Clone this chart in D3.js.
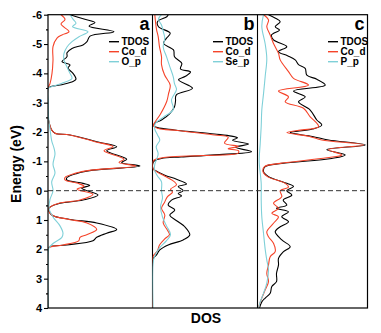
<!DOCTYPE html>
<html>
<head>
<meta charset="utf-8">
<script src="https://cdn.jsdelivr.net/npm/d3@7"></script>
<style>
  html, body { margin: 0; padding: 0; background: #fff; }
  svg { display: block; font-family: Arial, "Liberation Sans", sans-serif; }
</style>
</head>
<body>
<svg id="chart" width="381" height="333"></svg>
<script>
// Projected density of states, [energy (eV), DOS (states/eV)]
const aTDOS = [[-6.00,2.2],[-5.85,3.6],[-5.73,4.7],[-5.61,4.1],[-5.42,6.6],[-5.27,4.2],[-5.08,3.9],[-4.97,3.5],[-4.85,2.4],[-4.70,1.9],[-4.57,1.9],[-4.40,1.4],[-4.29,2.2],[-4.18,2.0],[-4.00,2.5],[-3.80,2.8],[-3.72,2.5],[-3.60,1.2],[-3.49,0.0],[-2.55,0.0],[-2.41,0.05],[-2.07,0.37],[-1.96,0.7],[-1.90,2.2],[-1.67,4.87],[-1.50,6.87],[-1.36,5.87],[-1.07,7.87],[-0.96,7.37],[-0.84,9.2],[-0.70,4.5],[-0.59,2.9],[-0.45,1.9],[-0.37,1.87],[-0.25,3.5],[-0.18,4.17],[-0.08,3.37],[0.15,5.0],[0.32,3.5],[0.43,1.2],[0.56,0.2],[0.62,0.05],[0.83,0.37],[0.98,2.2],[1.10,4.87],[1.32,6.87],[1.45,5.87],[1.59,4.87],[1.71,4.5],[1.85,1.87],[1.91,0.2],[1.99,0.0],[4.00,0.0]];
const aCo_d = [[-6.00,1.3],[-5.84,1.7],[-5.68,1.3],[-5.42,2.1],[-5.31,1.4],[-5.20,0.9],[-4.91,0.5],[-4.45,0.5],[-4.00,0.4],[-3.65,0.2],[-3.49,0.0],[-2.55,0.0],[-2.41,0.05],[-2.07,0.37],[-1.96,0.7],[-1.90,2.2],[-1.67,4.7],[-1.50,6.5],[-1.36,5.6],[-1.07,7.6],[-0.96,7.1],[-0.84,8.8],[-0.70,4.3],[-0.59,2.7],[-0.45,1.7],[-0.37,1.7],[-0.25,3.0],[-0.15,3.6],[-0.05,2.9],[0.12,4.5],[0.32,3.2],[0.43,1.1],[0.56,0.2],[0.62,0.05],[0.83,0.37],[0.98,2.1],[1.10,3.9],[1.32,4.87],[1.50,3.87],[1.59,3.2],[1.71,3.07],[1.85,1.5],[1.93,0.1],[1.99,0.0],[4.00,0.0]];
const aO_p = [[-6.00,2.2],[-5.85,2.5],[-5.71,2.8],[-5.59,2.45],[-5.42,4.0],[-5.25,3.1],[-5.08,2.4],[-4.90,1.9],[-4.68,1.6],[-4.45,1.6],[-4.22,1.9],[-4.00,2.2],[-3.83,2.4],[-3.66,1.4],[-3.56,0.5],[-3.49,0.05],[-3.00,0.03],[-2.50,0.05],[-2.10,0.2],[-1.70,0.37],[-1.45,0.6],[-1.25,0.7],[-0.90,0.5],[-0.60,0.7],[-0.30,0.37],[0.00,0.5],[0.30,0.2],[0.60,0.1],[0.90,0.5],[1.20,1.2],[1.45,1.5],[1.60,1.37],[1.80,0.5],[1.95,0.1],[2.10,0.03],[4.00,0.03]];

const bTDOS = [[-6.00,1.57],[-5.93,1.43],[-5.76,0.5],[-5.59,0.6],[-5.37,1.77],[-5.20,1.4],[-5.02,1.1],[-4.80,2.1],[-4.57,2.2],[-4.34,2.93],[-4.15,2.8],[-4.05,3.8],[-3.90,3.3],[-3.78,2.6],[-3.49,4.0],[-3.26,2.37],[-3.05,2.3],[-2.86,2.2],[-2.63,1.73],[-2.41,0.9],[-2.30,0.25],[-2.22,0.1],[-2.15,0.5],[-2.07,2.2],[-1.93,6.2],[-1.86,7.9],[-1.80,8.5],[-1.72,8.0],[-1.59,9.6],[-1.48,8.3],[-1.33,9.9],[-1.22,6.2],[-1.15,2.87],[-1.10,0.9],[-1.02,0.2],[-0.95,0.05],[-0.75,0.05],[-0.70,0.23],[-0.53,1.23],[-0.39,2.4],[-0.23,3.4],[-0.14,2.57],[0.00,3.07],[0.10,2.57],[0.18,2.9],[0.32,1.9],[0.49,1.57],[0.66,2.23],[0.83,1.73],[1.06,2.57],[1.23,3.23],[1.51,3.73],[1.68,3.07],[1.85,1.57],[2.02,0.73],[2.19,0.4],[2.36,0.0],[4.00,0.0]];
const bCo_d = [[-6.00,0.23],[-5.50,0.4],[-5.25,0.57],[-4.90,0.7],[-4.57,0.9],[-4.30,0.9],[-3.95,1.2],[-3.60,1.77],[-3.30,1.6],[-3.05,1.43],[-2.60,0.77],[-2.35,0.27],[-2.22,0.1],[-2.12,0.6],[-2.05,2.5],[-1.90,6.2],[-1.82,7.57],[-1.62,7.2],[-1.51,8.57],[-1.43,7.57],[-1.36,8.6],[-1.28,8.57],[-1.20,5.0],[-1.15,1.57],[-1.07,0.3],[-1.00,0.05],[-0.75,0.05],[-0.65,0.4],[-0.50,1.2],[-0.35,2.0],[-0.20,2.4],[-0.05,1.8],[0.05,2.0],[0.20,1.5],[0.40,1.2],[0.60,0.9],[0.83,1.23],[1.10,1.07],[1.35,1.5],[1.50,1.7],[1.65,1.2],[1.85,0.7],[2.05,0.5],[2.25,0.05],[4.00,0.0]];
const bSe_p = [[-6.00,0.9],[-5.85,0.6],[-5.65,0.9],[-5.40,1.1],[-5.20,1.23],[-4.90,1.07],[-4.57,1.4],[-4.23,1.73],[-3.89,2.07],[-3.65,2.2],[-3.45,2.4],[-3.10,1.9],[-2.77,2.07],[-2.50,1.07],[-2.30,0.3],[-2.10,0.23],[-1.90,0.5],[-1.73,0.73],[-1.50,0.37],[-1.25,0.57],[-0.90,0.23],[-0.70,0.2],[-0.50,0.5],[-0.30,0.9],[0.00,0.9],[0.25,1.0],[0.55,0.8],[0.90,1.0],[1.20,1.4],[1.50,1.8],[1.70,1.4],[1.95,0.7],[2.25,0.2],[2.50,0.05],[4.00,0.05]];

const cTDOS = [[-6.00,1.1],[-5.88,1.8],[-5.76,2.27],[-5.59,1.77],[-5.48,2.2],[-5.31,1.4],[-5.14,1.6],[-4.91,2.93],[-4.74,2.1],[-4.60,3.0],[-4.46,3.77],[-4.30,4.1],[-4.17,4.77],[-3.94,4.93],[-3.80,5.93],[-3.60,6.77],[-3.40,3.6],[-3.20,4.77],[-3.03,4.1],[-2.75,5.27],[-2.41,5.93],[-2.24,6.43],[-2.10,5.5],[-1.98,3.27],[-1.85,5.5],[-1.73,7.1],[-1.56,10.77],[-1.40,6.93],[-1.22,8.77],[-1.10,7.43],[-0.93,2.43],[-0.82,0.77],[-0.65,0.6],[-0.48,1.1],[-0.25,2.93],[-0.14,3.6],[0.00,2.93],[0.15,3.43],[0.32,2.57],[0.49,2.93],[0.60,1.9],[0.72,3.1],[0.89,2.43],[1.06,3.1],[1.23,2.27],[1.40,1.77],[1.68,2.43],[1.91,3.27],[2.08,2.6],[2.31,2.1],[2.53,2.1],[2.82,1.9],[3.10,1.9],[3.27,1.43],[3.50,1.27],[3.66,0.77],[3.79,0.43],[4.00,0.2]];
const cCo_d = [[-6.00,0.6],[-5.82,1.1],[-5.59,0.93],[-5.31,1.27],[-5.02,1.6],[-4.68,2.1],[-4.46,2.27],[-4.06,3.1],[-3.83,3.6],[-3.60,5.1],[-3.40,2.1],[-3.20,3.1],[-3.03,2.77],[-2.81,4.6],[-2.52,5.27],[-2.30,5.93],[-2.18,6.1],[-2.05,4.0],[-1.98,2.93],[-1.85,5.2],[-1.73,6.43],[-1.56,10.6],[-1.40,7.1],[-1.22,8.43],[-1.12,6.93],[-0.93,2.3],[-0.82,0.7],[-0.65,0.55],[-0.48,1.0],[-0.25,2.77],[-0.12,3.1],[0.00,2.27],[0.20,2.43],[0.43,1.6],[0.60,2.1],[0.77,1.43],[0.89,2.1],[1.11,1.6],[1.40,0.93],[1.57,1.1],[1.79,1.6],[2.08,1.77],[2.25,1.27],[2.53,1.1],[2.82,0.93],[3.10,1.1],[3.38,0.77],[3.66,0.43],[3.90,0.17],[4.00,0.1]];
const cP_p = [[-6.00,0.6],[-5.60,0.43],[-5.00,0.77],[-4.50,0.93],[-3.90,0.77],[-3.30,0.6],[-2.75,0.43],[-2.20,0.37],[-1.60,0.27],[-1.00,0.17],[-0.25,0.37],[0.30,0.37],[0.89,0.43],[1.45,0.6],[2.00,0.77],[2.37,0.93],[2.70,1.1],[3.15,0.93],[3.50,0.6],[3.79,0.27],[4.00,0.1]];

const panelNames = ["a", "b", "c"];
const legendLabels = [["TDOS", "Co_d", "O_p"], ["TDOS", "Co_d", "Se_p"], ["TDOS", "Co_d", "P_p"]];
const panelSeries = [[aTDOS, aCo_d, aO_p], [bTDOS, bCo_d, bSe_p], [cTDOS, cCo_d, cP_p]];
const dosMax = [10.45, 10.5, 11.0];
const energyTicks = [-6, -5, -4, -3, -2, -1, 0, 1, 2, 3, 4];
const energyMinorTicks = [-5.5, -4.5, -3.5, -2.5, -1.5, -0.5, 0.5, 1.5, 2.5, 3.5];

const colors = ["#000000", "#f5442a", "#7fd0d8"];

const svg = d3.select("#chart");
const plotTop = 14.7, plotBottom = 308;
const edges = [48, 152.5, 257.5, 367.5];

const y = d3.scaleLinear().domain([-6, 4]).range([plotTop, plotBottom]);

// Panels: one DOS scale each, sharing the energy axis
panelSeries.forEach((series, i) => {
  const x0 = edges[i], x1 = edges[i + 1];
  const x = d3.scaleLinear().domain([0, dosMax[i]]).range([x0, x1]);

  svg.append("clipPath").attr("id", "clip" + i)
    .append("rect").attr("x", x0).attr("y", plotTop).attr("width", x1 - x0).attr("height", plotBottom - plotTop);

  // panel divider
  if (i > 0) {
    svg.append("line").attr("x1", x0).attr("x2", x0).attr("y1", plotTop).attr("y2", plotBottom)
      .attr("stroke", "#000").attr("stroke-width", 1.1);
  }

  const line = d3.line().x(d => x(d[1])).y(d => y(d[0])).curve(d3.curveCatmullRom.alpha(0.5));
  const g = svg.append("g").attr("clip-path", `url(#clip${i})`);
  series.forEach((s, k) => {
    g.append("path").datum(s).attr("d", line)
      .attr("fill", "none").attr("stroke", colors[k]).attr("stroke-width", 1.1)
      .attr("stroke-linejoin", "round");
  });

  // panel letter
  svg.append("text").attr("x", x1 - 3).attr("y", 29.5).attr("text-anchor", "end")
    .attr("font-size", 18).attr("font-weight", "bold").text(panelNames[i]);

  // legend
  const lx = [109, 213, 328][i];
  legendLabels[i].forEach((lab, k) => {
    const ly = 41.7 + k * 10;
    svg.append("line").attr("x1", lx).attr("x2", lx + 10).attr("y1", ly).attr("y2", ly)
      .attr("stroke", colors[k]).attr("stroke-width", 1.4);
    svg.append("text").attr("x", lx + 12.5).attr("y", ly + 3.6)
      .attr("font-size", 10).attr("font-weight", "bold").text(lab);
  });
});

// Fermi level
svg.append("line").attr("x1", edges[0]).attr("x2", edges[3]).attr("y1", y(0)).attr("y2", y(0))
  .attr("stroke", "#333").attr("stroke-width", 1).attr("stroke-dasharray", "5,3");

// Outer frame
svg.append("rect").attr("x", edges[0]).attr("y", plotTop).attr("width", edges[3] - edges[0]).attr("height", plotBottom - plotTop)
  .attr("fill", "none").attr("stroke", "#000").attr("stroke-width", 1.2);

// Energy axis
const yAxis = svg.append("g").attr("transform", `translate(${edges[0]},0)`)
  .call(d3.axisLeft(y).tickValues(energyTicks).tickSize(4).tickPadding(2).tickFormat(d => String(d)));
yAxis.select(".domain").remove();
yAxis.selectAll("text").attr("font-size", 11).attr("font-weight", "bold").attr("fill", "#000")
  .attr("font-family", "Arial, 'Liberation Sans', sans-serif");
yAxis.selectAll("line").attr("stroke-width", 1.1);

const yMinor = svg.append("g").attr("transform", `translate(${edges[0]},0)`)
  .call(d3.axisLeft(y).tickValues(energyMinorTicks).tickSize(2).tickFormat(""));
yMinor.select(".domain").remove();
yMinor.selectAll("line").attr("stroke-width", 1.1);

// Axis titles
svg.append("text").attr("transform", "translate(21,164) rotate(-90)").attr("text-anchor", "middle")
  .attr("font-size", 14).attr("font-weight", "bold").text("Energy (eV)");
svg.append("text").attr("x", 206).attr("y", 323).attr("text-anchor", "middle")
  .attr("font-size", 14).attr("font-weight", "bold").text("DOS");
</script>
</body>
</html>
